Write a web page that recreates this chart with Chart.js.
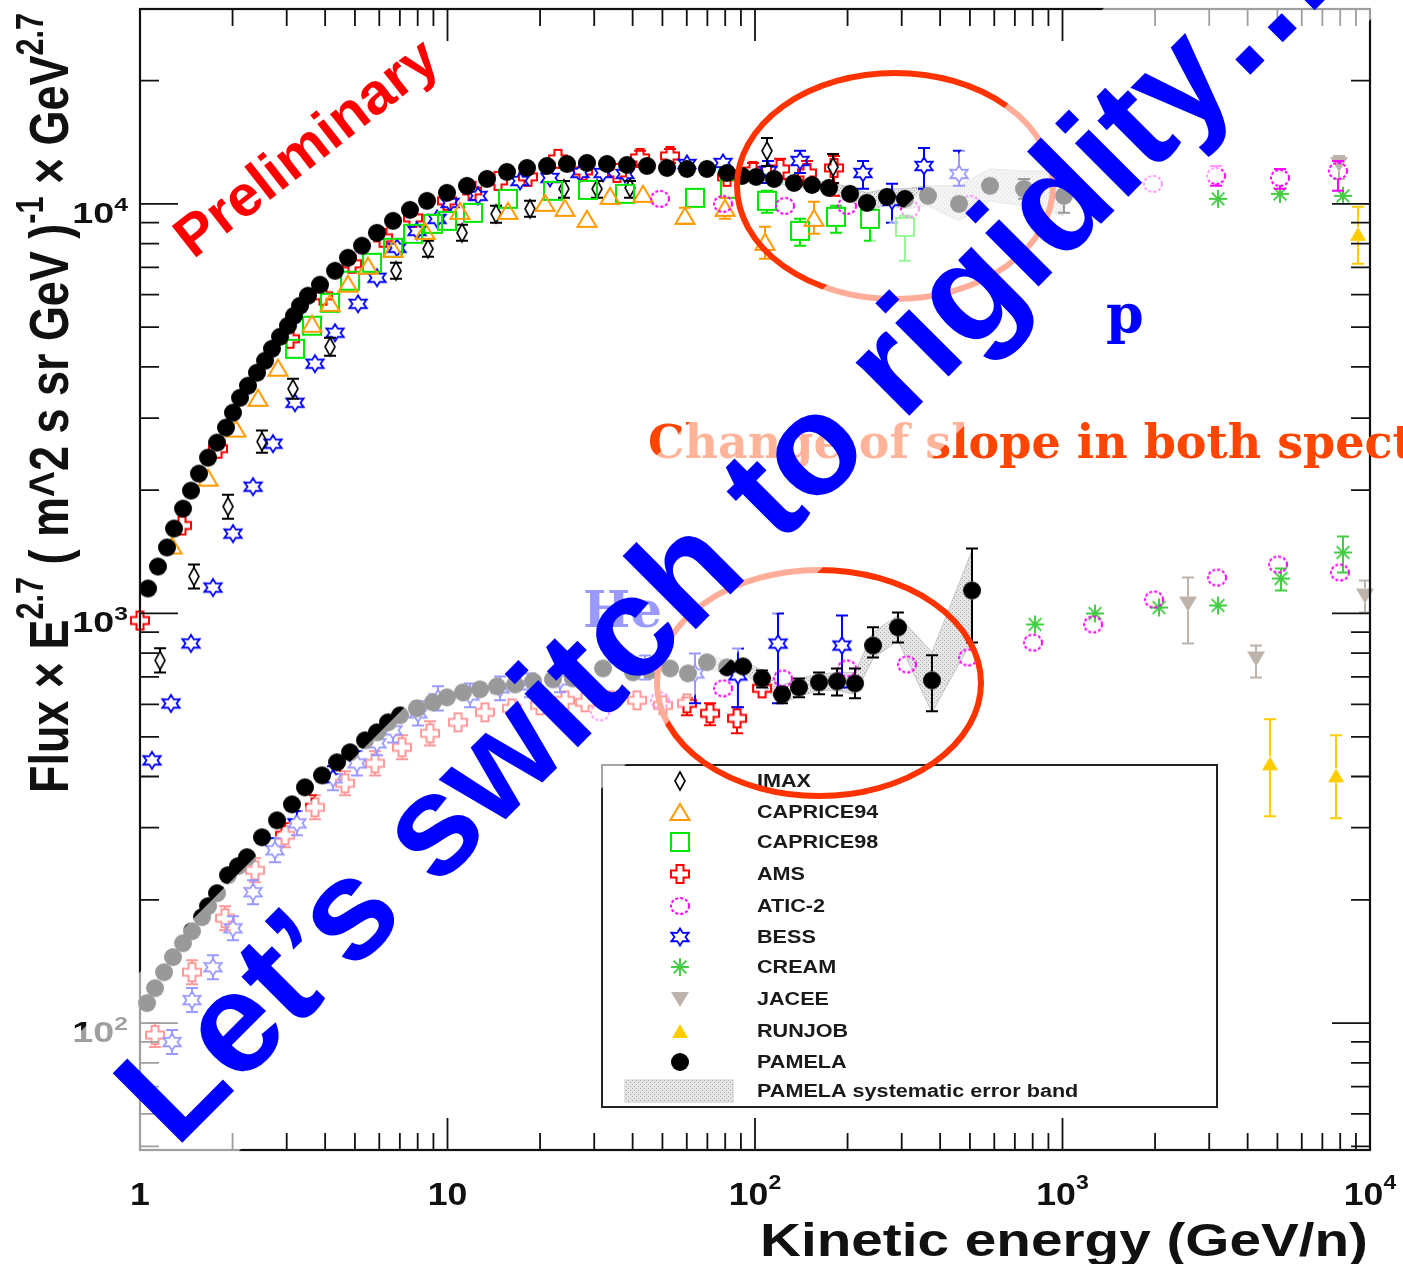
<!DOCTYPE html>
<html>
<head>
<meta charset="utf-8">
<title>Proton and helium spectra</title>
<script src="https://cdn.jsdelivr.net/npm/chart.js@4.4.1/dist/chart.umd.min.js"></script>
<style>
  html, body { margin: 0; padding: 0; background: #fff; }
  canvas { display: block; }
</style>
</head>
<body>
<canvas id="spettri" width="1403" height="1264"></canvas>
<script>
// kinetic energy (GeV/n) and flux x E^2.7 ; P = protons, He = helium
// bars are [E, low, high]

const pamP_E = [1.062,1.144,1.224,1.290,1.380,1.465,1.555,1.664,1.780,1.904,
  2.006,2.115,2.245,2.401,2.550,2.687,2.853,3.029,3.167,3.313,
  3.518,3.849,4.307,4.747,5.272,5.898,6.650,7.551,8.578,9.96,
  11.57,13.44,15.61,18.14,21.07,24.46,28.42,33.02,38.35,44.55,
  51.74,60.09,69.8,81.1,90.7,100.8,115.3,133.9,153.2,174.0,
  203.7,231.3,268.7,307.4,365.2,460.7,581,749.7,1011];
const pamP_F = [1151,1302,1449,1612,1803,1995,2195,2401,2613,2843,
  3092,3362,3597,3870,4141,4428,4738,5040,5331,5638,
  5966,6346,6865,7385,7902,8497,9090,9669,10169,10637,
  11064,11507,11967,12239,12378,12519,12589,12519,12447,12378,
  12239,12171,12171,11900,11701,11638,11507,11251,11125,10940,
  10578,10055,10402,10285,10459,10000,11064,10880,10459];
const pamP_bars = [[460.7,9669,10342],[581,10698,11443],[749.7,10285,11507],[1011,9506,11251]];

const pamHe_E = [1.054,1.119,1.197,1.280,1.380,1.476,1.591,1.664,1.780,1.933,
  2.083,2.228,2.492,2.790,3.121,3.440,3.907,4.372,4.819,5.392,
  5.898,6.405,7.008,7.957,8.971,9.96,11.23,12.76,14.49,16.58,
  18.97,22.03,25.59,32.05,40.11,45.56,52.92,60.54,69.8,81.1,
  91.4,105.4,122.4,139.0,161.5,184.8,211.5,242.0,291.7,376.3,
  507.8];
const pamHe_F = [111.9,121.7,133.1,144.9,156.7,167.6,181.4,192.9,207.5,229.6,
  241.5,254.1,284.2,312.6,342,376.3,402.6,433.1,458.2,490.1,
  512.7,542.2,564,586.6,606.7,624,641.9,652.9,663.8,671,
  682.5,690.3,694,734.4,718,726.1,734.4,714,760,738.6,
  742.7,694,634.6,660,678.7,682.5,675,835,925,686.6,
  1138];
const pamHe_bars = [[105.4,660,726.1],[122.4,603.3,660],[139.0,624,694],[161.5,634.6,718],
  [184.8,631,734.4],[211.5,620.5,734.4],[242.0,781,925],[291.7,849,1006],
  [376.3,576.8,790.2],[507.8,849,1441]];

// PAMELA systematic band
const bandP_E = [81.1,100.8,115.3,133.9,153.2,174.0,203.7,231.3,268.7,307.4,365.2,460.7,581,749.7,1011];
const bandP_HI = [12240,11900,11770,11507,11378,11251,11001,10637,10880,10880,11064,11064,12171,12035,12035];
const bandP_LO = [11600,11380,11250,11001,10880,10637,10169,9614,9944,9723,9888,9090,10169,9888,9348];
const bandHe_E = [69.8,81.1,91.4,105.4,122.4,139.0,161.5,184.8,211.5,242.0,291.7,376.3,507.8];
const bandHe_HI = [790.2,768,768,726.1,667.6,694,710,718,718,899,989,803.6,1425];
const bandHe_LO = [734.4,714,718,663.8,603.3,627.6,649.2,649.2,634.6,776.7,858.6,573.6,858.6];

const imaxP_E = [1.162,1.498,1.933,2.492,3.144,4.149,6.800,8.642,11.15,14.38,18.55,23.92,30.64,39.22,109.4,179.4];
const imaxP_F = [768,1231,1824,2628,3537,4478,6865,7768,8497,9454,9723,10880,10880,10940,13470,12307];
const imaxP_bars = [[1.162,718,822],[1.498,1151,1317],[1.933,1704,1949],[2.492,2469,2795],
  [3.144,3345,3742],[4.149,4259,4711],[6.800,6564,7180],[8.642,7425,8124],[11.15,8124,8887],
  [14.38,8989,9888],[18.55,9296,10169],[23.92,10342,11378],[30.64,10342,11378],
  [39.22,10342,11378],[109.4,12378,14488],[179.4,11251,13243]];

const c94P_E = [1.271,1.664,2.052,2.419,2.811,3.625,4.149,4.747,5.514,6.650,8.450,10.98,15.73,20.75,24.1,28.42,33.77,43.24,59.2,79.9,107.8,155.6];
const c94P_F = [1465,2146,2827,3362,3981,5097,5735,6382,7060,7768,8592,9614,9614,10055,9777,9191,10459,10578,9348,9777,8078,9244];
const c94P_bars = [[59.2,8938,9777],[79.9,9191,10342],[107.8,7343,8788],[155.6,8450,10113]];

const c98P_E = [3.191,3.625,4.149,4.819,5.682,6.650,7.723,8.971,9.96,12.1,15.73,22.03,28.63,37.77,63.8,82.9,109.4,140.1,183.4,236.6,307.4];
const c98P_F = [4428,5040,5735,6491,7180,7813,8450,8938,9090,9506,10285,10757,10817,10578,10342,10880,10169,8592,9296,9191,8788];
const c98P_bars = [[109.4,9506,10757],[140.1,7902,9191],[183.4,8497,9888],[236.6,8124,10000],[307.4,7262,9348]];

const amsP_E = [1.000,1.369,1.793,3.074,3.937,4.892,6.17,7.723,9.96,12.02,14.6,18.27,22.87,27.59,35.58,42.27,52.92,81.1,98.5,120.6,147.6,180.7];
const amsP_F = [961,1640,2525,4685,5966,7141,8262,9244,10169,10757,11378,11638,12877,12035,11900,12948,13094,11638,12035,12171,11900,12239];
const amsP_bars = [[42.27,12447,13470],[52.92,12589,13618],[98.5,11507,12589],[120.6,11507,12877],[147.6,11125,12732],[180.7,10459,13094]];

const amsHe_E = [1.119,1.476,1.890,2.366,2.962,3.707,4.642,5.811,7.112,8.772,10.82,13.24,16.2,20.0,24.1,28.0,33.77,41.33,50.2,60.09,71.4,87.4,105.4];
const amsHe_F = [93.5,133.1,180.3,236,287.4,336.3,384.9,430.6,471.3,509.8,542.2,573.6,586.6,596.6,613.6,606.7,613.6,613.6,596.6,603.3,570.4,554.6,656.5];
const amsHe_bars = [[1.119,87.4,100],[1.476,124.4,142.4],[1.890,168.5,192.9],[2.366,220.6,252.5],
  [2.962,268.6,307.5],[3.707,314.3,359.8],[4.642,359.7,411.8],[5.811,402.4,460.7],
  [7.112,440.5,504.3],[8.772,476.4,545.5],[60.09,564,623.6],[71.4,533.2,603.3],[87.4,509.8,589.9]];

const bessP_E = [1.094,1.261,1.465,1.727,2.006,2.331,2.707,3.191,3.707,4.307,5.117,5.898,6.852,7.957,9.245,10.19,12.57,17.21,21.54,26.97,32.05,37.77,60.09,78.7,110.3,140.1,224.5,279.0,354.4,460.7];
const bessP_F = [438,603,845,1157,1567,2040,2598,3270,4072,4846,5702,6601,7813,8592,9191,10055,10459,11378,11570,11900,11900,11834,12519,12589,12035,12732,11900,10169,12378,11834];
const bessP_bars = [[110.3,11251,12732],[140.1,11900,13470],[224.5,10880,12732],[279.0,8989,11189],[354.4,10880,13697],[460.7,11064,13470]];

const bessHe_E = [1.271,1.476,1.727,2.006,2.331,2.748,3.240,4.243,5.079,5.898,6.650,8.017,9.314,11.84,14.82,18.55,23.22,43.89,63.8,88.0,118.8,191.8];
const bessHe_F = [89.9,113.8,136.9,170.4,208.7,264.2,307.4,396,430.6,482,518.4,570.4,620.5,631,656.5,667.6,686.6,738.6,714,706,844.6,835];
const bessHe_bars = [[1.271,84.0,96.2],[1.476,106.4,121.8],[1.727,127.9,146.5],[2.006,159.3,182.3],
  [2.331,195,223.3],[2.748,246.9,282.7],[3.240,287.3,328.9],[4.243,370,423.7],[5.079,402.4,460.7],
  [5.898,450.5,515.7],[6.650,484.5,554.7],[8.017,533,610.3],[9.314,580,664],[11.84,590,675],
  [14.82,614,702],[18.55,624,714],[23.22,642,735],[43.89,690,790],[63.8,603.3,799],
  [88.0,589.9,821.6],[118.8,603.3,1000],[191.8,660,988.8]];

const aticP_E = [49.1,78.7,125.2,199.2,319.2,500.3,1970,3157,5097,7870];
const aticP_F = [10285,10000,9888,9888,9723,10000,11189,11701,11570,12035];
const aticP_bars = [[3157,11064,12378],[5097,10880,12171],[7870,10757,12732]];
const aticHe_E = [31.33,49.1,78.7,123.3,199.2,312.1,492.9,802,1257,1985,3181,5022,7988];
const aticHe_F = [573.6,613.6,656.5,694,734.4,751,781,849,940,1082,1224,1317,1259];

const creamP_E = [3205,5097,8169];
const creamP_F = [10285,10578,10459];
const creamHe_E = [814,1276,2060,3205,5135,8169];
const creamHe_F = [940,1000,1034,1046,1217,1409];
const creamHe_bars = [[5135,1138,1288],[8169,1259,1541]];

const jaceeP_E = [7929];
const jaceeP_F = [12519];
const jaceeP_bars = [[7929,11507,13094]];
const jaceeHe_E = [2559,4259,9632];
const jaceeHe_F = [1058,776.7,1106];
const jaceeHe_bars = [[2559,844.6,1224],[4259,698,835],[9632,1006,1203]];

const runjobP_E = [9141];
const runjobP_F = [8450];
const runjobP_bars = [[9141,7141,9833]];
const runjobHe_E = [4728,7753];
const runjobHe_F = [430.6,402.6];
const runjobHe_bars = [[4728,319.8,551.4],[7753,316.2,504.1]];

// axis labels
const xTickVal = [1, 10, 100, 1000, 10000];
const xTickBase = ['1', '10', '10', '10', '10'];
const xTickExp = ['', '', '2', '3', '4'];
const yTickVal = [100, 1000, 10000];
const yTickExp = ['2', '3', '4'];

const legendNames = ['IMAX', 'CAPRICE94', 'CAPRICE98', 'AMS', 'ATIC-2', 'BESS', 'CREAM', 'JACEE', 'RUNJOB', 'PAMELA', 'PAMELA systematic error band'];

const SANS = '"Liberation Sans", Arial, Helvetica, sans-serif';
const SERIF = '"DejaVu Serif", "Liberation Serif", serif';

// ---- marker sprites ----
function marker(draw) {
  const c = document.createElement('canvas');
  c.width = 26; c.height = 26;
  const g = c.getContext('2d');
  g.translate(13, 13);
  draw(g);
  return c;
}
const mkImax = marker(g => {
  g.strokeStyle = '#000'; g.lineWidth = 1.6;
  g.beginPath(); g.moveTo(0, -9); g.lineTo(5, 0); g.lineTo(0, 9); g.lineTo(-5, 0); g.closePath(); g.stroke();
});
const mkC94 = marker(g => {
  g.strokeStyle = '#ff9900'; g.lineWidth = 2;
  g.beginPath(); g.moveTo(0, -8); g.lineTo(9.5, 8); g.lineTo(-9.5, 8); g.closePath(); g.stroke();
});
const mkC98 = marker(g => {
  g.strokeStyle = '#00e600'; g.lineWidth = 2;
  g.strokeRect(-9, -9, 18, 18);
});
const mkAms = marker(g => {
  g.strokeStyle = '#ff0000'; g.lineWidth = 2;
  const a = 3.5, b = 9;
  g.beginPath();
  g.moveTo(-a, -b); g.lineTo(a, -b); g.lineTo(a, -a); g.lineTo(b, -a); g.lineTo(b, a); g.lineTo(a, a);
  g.lineTo(a, b); g.lineTo(-a, b); g.lineTo(-a, a); g.lineTo(-b, a); g.lineTo(-b, -a); g.lineTo(-a, -a);
  g.closePath(); g.stroke();
});
const mkAtic = marker(g => {
  g.strokeStyle = '#ff00ff'; g.lineWidth = 2; g.setLineDash([3, 2]);
  g.beginPath(); g.ellipse(0, 0, 9, 8, 0, 0, Math.PI * 2); g.stroke();
});
const mkBess = marker(g => {
  g.strokeStyle = '#0000ff'; g.lineWidth = 1.8;
  g.beginPath();
  for (let k = 0; k < 12; k++) {
    const r = k % 2 ? 5.5 : 10, t = (-90 + k * 30) * Math.PI / 180;
    const px = r * Math.cos(t), py = r * Math.sin(t) * 0.85;
    if (k) g.lineTo(px, py); else g.moveTo(px, py);
  }
  g.closePath(); g.stroke();
});
const mkCream = marker(g => {
  g.strokeStyle = '#44cc44'; g.lineWidth = 2;
  g.beginPath();
  for (let k = 0; k < 4; k++) {
    const t = k * Math.PI / 4;
    g.moveTo(-9 * Math.cos(t), -9 * Math.sin(t)); g.lineTo(9 * Math.cos(t), 9 * Math.sin(t));
  }
  g.stroke();
});
const mkJacee = marker(g => {
  g.fillStyle = '#bdb3aa';
  g.beginPath(); g.moveTo(-9, -7); g.lineTo(9, -7); g.lineTo(0, 8); g.closePath(); g.fill();
});
const mkRunjob = marker(g => {
  g.fillStyle = '#ffcc00';
  g.beginPath(); g.moveTo(-8, 7); g.lineTo(8, 7); g.lineTo(0, -7); g.closePath(); g.fill();
});
const mkPamela = marker(g => {
  g.fillStyle = '#000';
  g.beginPath(); g.arc(0, 0, 9, 0, Math.PI * 2); g.fill();
});

// dotted fill for the systematic band
const dotTile = document.createElement('canvas');
dotTile.width = 4; dotTile.height = 4;
(function () {
  const g = dotTile.getContext('2d');
  g.fillStyle = '#e6e6e6'; g.fillRect(0, 0, 4, 4);
  g.fillStyle = '#a8a8a8'; g.fillRect(0, 0, 1, 1); g.fillRect(2, 2, 1, 1);
})();
const dots = document.getElementById('spettri').getContext('2d').createPattern(dotTile, 'repeat');

function series(E, F, extra) {
  return Object.assign({ data: E.map((e, i) => ({ x: e, y: F[i] })), clip: false, order: 5 }, extra);
}
function bandLine(E, F, extra) {
  return series(E, F, Object.assign({ showLine: true, pointRadius: 0, borderColor: '#c4c4c4', borderWidth: 1, tension: 0, order: 20 }, extra));
}

const datasets = [
  bandLine(bandP_E, bandP_HI),
  bandLine(bandP_E, bandP_LO, { fill: '-1', backgroundColor: dots }),
  bandLine(bandHe_E, bandHe_HI),
  bandLine(bandHe_E, bandHe_LO, { fill: '-1', backgroundColor: dots }),
  series(aticP_E, aticP_F, { pointStyle: mkAtic, bars: aticP_bars, barColor: '#ff00ff', gap: 8 }),
  series(aticHe_E, aticHe_F, { pointStyle: mkAtic }),
  series(creamP_E, creamP_F, { pointStyle: mkCream }),
  series(creamHe_E, creamHe_F, { pointStyle: mkCream, bars: creamHe_bars, barColor: '#44cc44', gap: 8 }),
  series(jaceeP_E, jaceeP_F, { pointStyle: mkJacee, bars: jaceeP_bars, barColor: '#bdb3aa', gap: 7 }),
  series(jaceeHe_E, jaceeHe_F, { pointStyle: mkJacee, bars: jaceeHe_bars, barColor: '#bdb3aa', gap: 7 }),
  series(runjobP_E, runjobP_F, { pointStyle: mkRunjob, bars: runjobP_bars, barColor: '#ffcc00', gap: 7 }),
  series(runjobHe_E, runjobHe_F, { pointStyle: mkRunjob, bars: runjobHe_bars, barColor: '#ffcc00', gap: 7 }),
  series(c94P_E, c94P_F, { pointStyle: mkC94, bars: c94P_bars, barColor: '#ff9900', gap: 8 }),
  series(c98P_E, c98P_F, { pointStyle: mkC98, bars: c98P_bars, barColor: '#00e600', gap: 9 }),
  series(imaxP_E, imaxP_F, { pointStyle: mkImax, bars: imaxP_bars, barColor: '#000', gap: 8 }),
  series(bessP_E, bessP_F, { pointStyle: mkBess, bars: bessP_bars, barColor: '#0000ff', gap: 8 }),
  series(bessHe_E, bessHe_F, { pointStyle: mkBess, bars: bessHe_bars, barColor: '#0000ff', gap: 8 }),
  series(amsP_E, amsP_F, { pointStyle: mkAms, bars: amsP_bars, barColor: '#ff0000', gap: 9 }),
  series(amsHe_E, amsHe_F, { pointStyle: mkAms, bars: amsHe_bars, barColor: '#ff0000', gap: 9 }),
  series(pamHe_E, pamHe_F, { pointStyle: mkPamela, bars: pamHe_bars, barColor: '#000', gap: 9, order: 0 }),
  series(pamP_E, pamP_F, { pointStyle: mkPamela, bars: pamP_bars, barColor: '#000', gap: 9, order: 0 })
];

// vertical error bars with end caps
const errorBars = {
  id: 'errorBars',
  afterDatasetDraw(chart, args) {
    const ds = chart.data.datasets[args.index];
    if (!ds.bars) return;
    const xs = chart.scales.x, ys = chart.scales.y, g = chart.ctx;
    g.save();
    g.strokeStyle = ds.barColor; g.lineWidth = 2;
    g.beginPath();
    for (const [e, lo, hi] of ds.bars) {
      const p = ds.data.find(d => d.x === e);
      const x = xs.getPixelForValue(e);
      const yLo = ys.getPixelForValue(lo), yHi = ys.getPixelForValue(hi);
      const yc = p ? ys.getPixelForValue(p.y) : (yLo + yHi) / 2;
      if (yHi < yc - ds.gap) { g.moveTo(x, yHi); g.lineTo(x, yc - ds.gap); }
      if (yLo > yc + ds.gap) { g.moveTo(x, yc + ds.gap); g.lineTo(x, yLo); }
      g.moveTo(x - 6, yHi); g.lineTo(x + 6, yHi);
      g.moveTo(x - 6, yLo); g.lineTo(x + 6, yLo);
    }
    g.stroke();
    g.restore();
  }
};

// text made of normal and raised pieces
function runsWidth(g, runs, fs, ss) {
  let w = 0;
  for (const r of runs) { g.font = 'bold ' + (r.s ? ss : fs) + 'px ' + SANS; w += g.measureText(r.t).width; }
  return w;
}
function drawRuns(g, runs, fs, ss, rise) {
  let x = 0;
  for (const r of runs) {
    g.font = 'bold ' + (r.s ? ss : fs) + 'px ' + SANS;
    g.fillText(r.t, x, r.s ? -rise : 0);
    x += g.measureText(r.t).width;
  }
}

const decorations = {
  id: 'decorations',
  afterDraw(chart) {
    const g = chart.ctx, A = chart.chartArea, xs = chart.scales.x, ys = chart.scales.y;
    g.save();
    g.textAlign = 'left'; g.textBaseline = 'alphabetic';

    // frame and inward ticks on all four sides
    g.strokeStyle = '#111'; g.lineWidth = 2.2;
    g.strokeRect(A.left, A.top, A.right - A.left, A.bottom - A.top);
    g.lineWidth = 1.8;
    g.beginPath();
    for (let d = 0; d <= 4; d++) for (let m = 1; m <= 9; m++) {
      const v = m * Math.pow(10, d);
      if (v > xs.max) break;
      const px = xs.getPixelForValue(v), L = m === 1 ? 32 : 17;
      g.moveTo(px, A.bottom); g.lineTo(px, A.bottom - L);
      g.moveTo(px, A.top); g.lineTo(px, A.top + L);
    }
    for (let d = 1; d <= 4; d++) for (let m = 1; m <= 9; m++) {
      const v = m * Math.pow(10, d);
      if (v < ys.min || v > ys.max) continue;
      const py = ys.getPixelForValue(v), L = m === 1 ? 38 : 19;
      g.moveTo(A.left, py); g.lineTo(A.left + L, py);
      g.moveTo(A.right, py); g.lineTo(A.right - L, py);
    }
    g.stroke();

    // tick labels
    g.fillStyle = '#111';
    xTickVal.forEach((v, i) => {
      const runs = [{ t: xTickBase[i] }, { t: xTickExp[i], s: 1 }];
      const w = runsWidth(g, runs, 31, 20);
      g.save();
      g.translate(xs.getPixelForValue(v), 1205);
      g.scale(1.15, 1);
      g.translate(-w / 2, 0);
      drawRuns(g, runs, 31, 20, 16);
      g.restore();
    });
    yTickVal.forEach((v, i) => {
      const runs = [{ t: '10' }, { t: yTickExp[i], s: 1 }];
      const w = runsWidth(g, runs, 29, 19);
      g.save();
      g.translate(128, ys.getPixelForValue(v) + 19);
      g.scale(1.3, 1);
      g.translate(-w, 0);
      drawRuns(g, runs, 29, 19, 12);
      g.restore();
    });

    // axis titles
    g.font = 'bold 46px ' + SANS;
    const xt = 'Kinetic energy (GeV/n)';
    const xw = g.measureText(xt).width;
    g.save();
    g.translate(1368, 1256);
    g.scale(608 / xw, 1);
    g.fillText(xt, -xw, 0);
    g.restore();

    const yRuns = [{ t: 'Flux \u00d7 E' }, { t: '2.7', s: 1 }, { t: ' ( m^2 s sr GeV )' }, { t: '-1', s: 1 },
      { t: ' \u00d7 GeV' }, { t: '2.7', s: 1 }];
    const yw = runsWidth(g, yRuns, 44, 30);
    g.save();
    g.translate(68, 793);
    g.rotate(-Math.PI / 2);
    g.scale(780 / yw, 1.27);
    drawRuns(g, yRuns, 44, 30, 20);
    g.restore();

    // legend box
    g.fillStyle = '#fff';
    g.fillRect(602, 765, 615, 342);
    g.strokeStyle = '#222'; g.lineWidth = 2;
    g.strokeRect(602, 765, 615, 342);
    const legendMarks = [mkImax, mkC94, mkC98, mkAms, mkAtic, mkBess, mkCream, mkJacee, mkRunjob, mkPamela];
    const legendRows = [781, 812, 842, 874, 906, 937, 967, 999, 1031, 1062, 1091];
    legendMarks.forEach((m, i) => g.drawImage(m, 680 - 13, legendRows[i] - 13));
    g.fillStyle = dots;
    g.fillRect(625, 1080, 108, 22);
    g.strokeStyle = '#ccc'; g.lineWidth = 1;
    g.strokeRect(625, 1080, 108, 22);
    g.fillStyle = '#1a1a1a';
    g.font = 'bold 18px ' + SANS;
    g.textBaseline = 'middle';
    legendNames.forEach((n, i) => {
      g.save();
      g.translate(757, legendRows[i] + 1);
      g.scale(1.2, 1);
      g.fillText(n, 0, 0);
      g.restore();
    });
    g.textBaseline = 'alphabetic';

    // highlight rings
    g.strokeStyle = '#ff3300'; g.lineWidth = 6;
    g.beginPath(); g.ellipse(895, 186, 158, 113, 0, 0, Math.PI * 2); g.stroke();
    g.beginPath(); g.ellipse(819, 683, 162, 113, 0, 0, Math.PI * 2); g.stroke();

    // notes
    g.fillStyle = '#ff4500';
    g.font = 'bold 46px ' + SERIF;
    g.fillText('Change of slope in both spectra', 648, 458);
    g.fillStyle = '#0000ff';
    g.font = 'bold 50px ' + SERIF;
    g.fillText('He', 583, 627);

    // translucent box behind the big caption
    g.fillStyle = 'rgba(255,255,255,0.6)';
    g.beginPath();
    g.moveTo(1112, 0); g.lineTo(1390, 0); g.lineTo(180, 1210); g.lineTo(41, 1071);
    g.closePath(); g.fill();

    g.fillStyle = '#0000ff';
    g.font = 'bold 54px ' + SERIF;
    g.fillText('p', 1106, 333);

    g.save();
    g.fillStyle = '#ff0000';
    g.font = 'bold 58px ' + SANS;
    g.translate(308, 150);
    g.rotate(-38 * Math.PI / 180);
    g.textAlign = 'center'; g.textBaseline = 'middle';
    g.fillText('Preliminary', 0, 0);
    g.restore();

    g.save();
    g.fillStyle = '#0000ff';
    g.font = 'bold 143px ' + SANS;
    g.translate(175.6, 1149.4);
    g.rotate(-Math.PI / 4);
    g.fillText('Let\u2019s switch to rigidity\u2026', 0, 0);
    g.restore();

    g.restore();
  }
};

new Chart(document.getElementById('spettri'), {
  type: 'scatter',
  data: { datasets: datasets },
  options: {
    responsive: false,
    animation: false,
    devicePixelRatio: 1,
    events: [],
    layout: { padding: { left: 140, top: 8, right: 33, bottom: 114 } },
    scales: {
      x: { type: 'logarithmic', min: 1, max: 10000, display: false },
      y: { type: 'logarithmic', min: 49.0, max: 29900, display: false }
    },
    elements: { point: { radius: 9, borderWidth: 0 } },
    plugins: { legend: { display: false }, tooltip: { enabled: false } }
  },
  plugins: [errorBars, decorations]
});
</script>
</body>
</html>
